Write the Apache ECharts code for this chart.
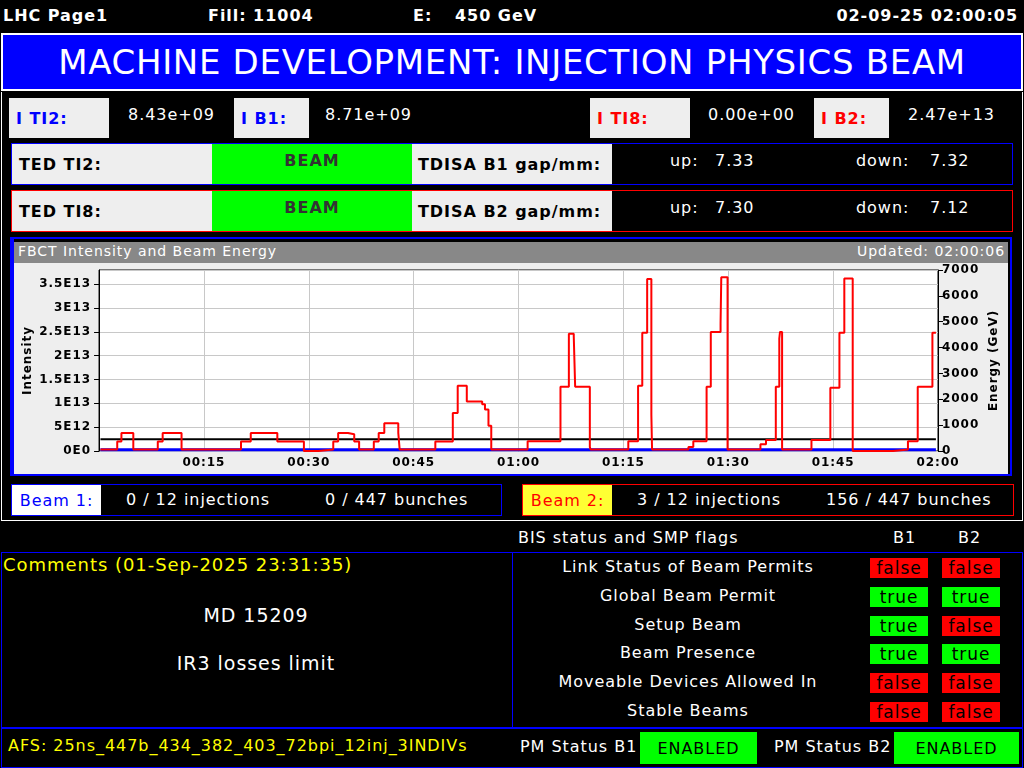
<!DOCTYPE html>
<html><head><meta charset="utf-8">
<script src="https://cdn.jsdelivr.net/npm/echarts@6/dist/echarts.min.js"></script>
<style>
body{margin:0;background:#000;width:1024px;height:768px;overflow:hidden;font-family:"DejaVu Sans",sans-serif;position:relative;letter-spacing:0.06em}
.a{position:absolute;box-sizing:border-box;white-space:nowrap}
.b{font-weight:bold}
.w{color:#fff}
.lbl{background:#eee;font-weight:bold;font-size:16px;display:flex;align-items:center;padding-left:7px}
.c{display:flex;align-items:center;justify-content:center}
.f{background:#f00;color:#000;font-size:17px}
.t{background:#0f0;color:#000;font-size:17px}
</style></head><body>
<!-- top bar -->
<div class="a b w" style="left:3px;top:6px;font-size:16px">LHC Page1</div>
<div class="a b w" style="left:208px;top:6px;font-size:16px">Fill: 11004</div>
<div class="a b w" style="left:413px;top:6px;font-size:16px">E:</div>
<div class="a b w" style="left:455px;top:6px;font-size:16px">450 GeV</div>
<div class="a b w" style="right:6px;top:6px;font-size:16px">02-09-25 02:00:05</div>
<div class="a c w" style="left:1px;top:33px;width:1022px;height:58px;background:#00f;border:2px solid #fff;font-size:34px;letter-spacing:0.02em">MACHINE DEVELOPMENT: INJECTION PHYSICS BEAM</div>
<div class="a" style="left:1px;top:92px;width:1022px;height:429px;border:1px solid #fff;border-top:none"></div>
<!-- intensity row -->
<div class="a lbl" style="left:9px;top:98px;width:100px;height:40px;color:#00f">I TI2:</div>
<div class="a w" style="left:128px;top:105px;font-size:16px">8.43e+09</div>
<div class="a lbl" style="left:234px;top:98px;width:75px;height:40px;color:#00f">I B1:</div>
<div class="a w" style="left:325px;top:105px;font-size:16px">8.71e+09</div>
<div class="a lbl" style="left:590px;top:98px;width:100px;height:40px;color:#f00">I TI8:</div>
<div class="a w" style="left:708px;top:105px;font-size:16px">0.00e+00</div>
<div class="a lbl" style="left:814px;top:98px;width:75px;height:40px;color:#f00">I B2:</div>
<div class="a w" style="left:908px;top:105px;font-size:16px">2.47e+13</div>
<!-- TED rows -->
<div class="a" style="left:11px;top:143px;width:1002px;height:42px;border:1px solid #00f"></div>
<div class="a lbl" style="left:12px;top:144px;width:200px;height:40px;color:#000">TED TI2:</div>
<div class="a b" style="left:212px;top:144px;width:200px;height:40px;background:#0f0;color:#333;font-size:16px;text-align:center;padding-top:7px">BEAM</div>
<div class="a lbl" style="left:412px;top:144px;width:200px;height:40px;color:#000;padding-left:6px">TDISA B1 gap/mm:</div>
<div class="a w" style="left:670px;top:151px;font-size:16px">up:</div>
<div class="a w" style="left:715px;top:151px;font-size:16px">7.33</div>
<div class="a w" style="left:856px;top:151px;font-size:16px">down:</div>
<div class="a w" style="left:930px;top:151px;font-size:16px">7.32</div>
<div class="a" style="left:11px;top:190px;width:1002px;height:42px;border:1px solid #f00"></div>
<div class="a lbl" style="left:12px;top:191px;width:200px;height:40px;color:#000">TED TI8:</div>
<div class="a b" style="left:212px;top:191px;width:200px;height:40px;background:#0f0;color:#333;font-size:16px;text-align:center;padding-top:7px">BEAM</div>
<div class="a lbl" style="left:412px;top:191px;width:200px;height:40px;color:#000;padding-left:6px">TDISA B2 gap/mm:</div>
<div class="a w" style="left:670px;top:198px;font-size:16px">up:</div>
<div class="a w" style="left:715px;top:198px;font-size:16px">7.30</div>
<div class="a w" style="left:856px;top:198px;font-size:16px">down:</div>
<div class="a w" style="left:930px;top:198px;font-size:16px">7.12</div>
<!-- chart frame -->
<div class="a" style="left:10px;top:237px;width:1002px;height:239px;border:2px solid #00f;border-left-width:4px"></div>
<div class="a w" style="left:14px;top:242px;width:994px;height:21px;background:#888;font-size:14px;padding:1px 4px">FBCT Intensity and Beam Energy<span style="position:absolute;right:3px">Updated: 02:00:06</span></div>
<div id="chart" class="a" style="left:14px;top:263px;width:994px;height:211px;background:#eee"></div>
<!-- beam boxes -->
<div class="a" style="left:11px;top:484px;width:491px;height:32px;border:1px solid #00f"></div>
<div class="a c" style="left:12px;top:485px;width:89px;height:30px;background:#fff;color:#00f;font-size:16px">Beam 1:</div>
<div class="a w" style="left:126px;top:490px;font-size:16px">0 / 12 injections</div>
<div class="a w" style="left:325px;top:490px;font-size:16px">0 / 447 bunches</div>
<div class="a" style="left:522px;top:484px;width:492px;height:32px;border:1px solid #f00"></div>
<div class="a c" style="left:523px;top:485px;width:89px;height:30px;background:#ff3;color:#f00;font-size:16px">Beam 2:</div>
<div class="a w" style="left:637px;top:490px;font-size:16px">3 / 12 injections</div>
<div class="a w" style="left:826px;top:490px;font-size:16px">156 / 447 bunches</div>
<!-- BIS -->
<div class="a w" style="left:518px;top:528px;font-size:16px">BIS status and SMP flags</div>
<div class="a w" style="left:893px;top:528px;font-size:16px">B1</div>
<div class="a w" style="left:958px;top:528px;font-size:16px">B2</div>
<div class="a" style="left:1px;top:552px;width:512px;height:176px;border:1px solid #00f"></div>
<div class="a" style="left:512px;top:552px;width:511px;height:176px;border:1px solid #00f"></div>
<div class="a" style="left:3px;top:554px;color:#ff0;font-size:18px">Comments (01-Sep-2025 23:31:35)</div>
<div class="a w" style="left:0;width:512px;top:604px;font-size:19px;text-align:center">MD 15209</div>
<div class="a w" style="left:0;width:512px;top:652px;font-size:19px;text-align:center">IR3 losses limit</div>
<div id="flags"></div>
<!-- bottom -->
<div class="a" style="left:1px;top:728px;width:1022px;height:40px;border:1px solid #00f"></div>
<div class="a" style="left:8px;top:736px;color:#ff0;font-size:16px">AFS: 25ns_447b_434_382_403_72bpi_12inj_3INDIVs</div>
<div class="a w" style="left:520px;top:737px;font-size:16px">PM Status B1</div>
<div class="a c" style="left:640px;top:732px;width:117px;height:32px;background:#0f0;color:#000;font-size:16px">ENABLED</div>
<div class="a w" style="left:774px;top:737px;font-size:16px">PM Status B2</div>
<div class="a c" style="left:894px;top:732px;width:125px;height:32px;background:#0f0;color:#000;font-size:16px">ENABLED</div>
<script>
// data
const flagNames=["Link Status of Beam Permits","Global Beam Permit","Setup Beam","Beam Presence","Moveable Devices Allowed In","Stable Beams"];
const flagB1=[false,true,true,true,false,false];
const flagB2=[false,true,false,true,false,false];
// time in minutes after 00:00, B2 intensity in units of 1e12
const b2Times=[0.2,2.6,3.2,4.9,8.4,9.1,11.8,20.3,21.7,25.5,29.3,31.4,33.5,34.2,35.6,36.5,37.2,39.3,40.0,40.8,42.8,43.0,48.1,50.6,51.3,52.6,54.8,55.2,55.7,56.1,61.3,66.0,67.2,67.9,68.1,70.2,70.3,75.7,77.1,77.7,78.4,79.0,79.1,84.3,85.0,86.9,87.5,88.9,89.0,89.9,94.6,95.4,96.8,97.3,97.4,97.7,101.9,104.6,105.9,106.6,107.8,113.6,115.7,117.1,119.2,119.7];
const b2Values=[0.3,2,3.8,0.3,2,3.8,0.3,2,3.8,2,0,0.3,2,3.8,3.5,2,0.3,2,3.8,5.8,3.8,0.3,2,8,13.7,10.4,9.8,8.7,5.3,0.3,2.06,13.5,24.6,24.1,13.5,0.85,0.3,2.06,13.7,24.8,36.1,7.6,0.3,0.85,2.06,13.5,25,26.8,36.5,0.3,1.4,2.3,13.5,23.6,25,0.3,2.3,13.3,24.8,36.2,0,0.3,2.06,13.5,24.8,24.8];
const b1Times=[0.2,119.7];
const b1Values=[0.25,0.25];
const energyTimes=[0.2,119.7];
const energyValues=[450,450];

let fh='';
flagNames.forEach((n,i)=>{
  const y=557+i*28.8;
  fh+=`<div class="a w" style="left:540px;width:296px;top:${y}px;font-size:16px;text-align:center">${n}</div>`;
  fh+=`<div class="a c ${flagB1[i]?'t':'f'}" style="left:870px;top:${y+1}px;width:58px;height:20px">${flagB1[i]}</div>`;
  fh+=`<div class="a c ${flagB2[i]?'t':'f'}" style="left:942px;top:${y+1}px;width:58px;height:20px">${flagB2[i]}</div>`;
});
document.getElementById('flags').innerHTML=fh;

const E=1e12;
const ch=echarts.init(document.getElementById('chart'));
const lab={color:'#000',fontWeight:'bold',fontSize:12,fontFamily:'DejaVu Sans'};
function sci(v){if(v===0)return '0E0';const e=Math.floor(Math.log10(v)+1e-9);return (+(v/Math.pow(10,e)).toFixed(2))+'E'+e;}
ch.setOption({
  animation:false,
  grid:{left:81,right:65,top:7,bottom:23,show:true,backgroundColor:'#fff',borderColor:'#000',borderWidth:1},
  xAxis:{type:'value',min:0,max:120,interval:15,
    axisLine:{show:false},axisTick:{show:false},
    splitLine:{lineStyle:{color:'#c8c8c8'}},
    axisLabel:Object.assign({},lab,{margin:6,formatter:v=>v===0?'':String(Math.floor(v/60)).padStart(2,'0')+':'+String(v%60).padStart(2,'0')})},
  yAxis:[{type:'value',min:0,max:3.8e13,interval:5e12,name:'Intensity',nameLocation:'middle',nameGap:62,nameRotate:90,
    nameTextStyle:lab,axisLine:{show:true,lineStyle:{color:'#000'}},axisTick:{show:true,lineStyle:{color:'#000'}},
    splitLine:{lineStyle:{color:'#c8c8c8'}},
    axisLabel:Object.assign({},lab,{showMaxLabel:false,formatter:sci}),
  },{type:'value',min:0,max:7000,interval:1000,name:'Energy (GeV)',nameLocation:'middle',nameGap:50,nameRotate:90,
    nameTextStyle:lab,axisLine:{show:true,lineStyle:{color:'#000'}},axisTick:{show:true,lineStyle:{color:'#000'}},
    splitLine:{show:false},axisLabel:Object.assign({},lab,{margin:4,formatter:v=>String(v)})}],
  series:[
    {type:'line',step:'end',symbol:'none',data:b1Times.map((t,i)=>[t,b1Values[i]*E]),lineStyle:{color:'#00f',width:3},z:2},
    {type:'line',step:'end',symbol:'none',data:energyTimes.map((t,i)=>[t,energyValues[i]]),yAxisIndex:1,lineStyle:{color:'#000',width:2},z:3},
    {type:'line',step:'end',symbol:'none',data:b2Times.map((t,i)=>[t,b2Values[i]*E]),lineStyle:{color:'#f00',width:2},z:4}
  ]
});
</script>
</body></html>
